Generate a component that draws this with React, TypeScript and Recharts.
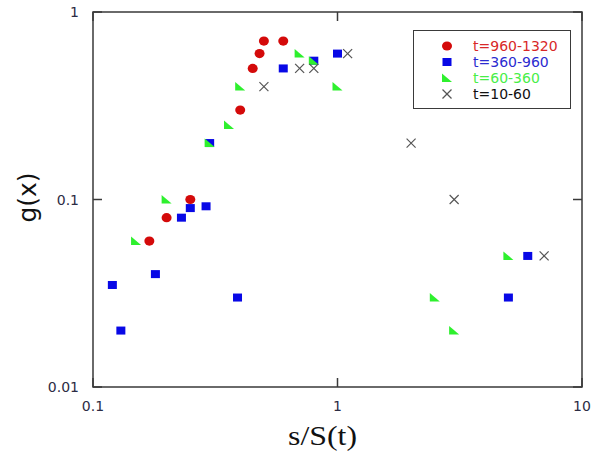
import { ScatterChart, Scatter, XAxis, YAxis, Legend, Label, ReferenceArea } from "recharts";

const xTicks = [0.1, 1, 10];
const yTicks = [0.01, 0.1, 1];

// g(x) against s/S(t), one list per time window
const t960to1320 = [
  { x: 0.17, y: 0.06 },
  { x: 0.2, y: 0.08 },
  { x: 0.25, y: 0.1 },
  { x: 0.4, y: 0.3 },
  { x: 0.45, y: 0.5 },
  { x: 0.48, y: 0.6 },
  { x: 0.5, y: 0.7 },
  { x: 0.6, y: 0.7 },
];

const t360to960 = [
  { x: 0.12, y: 0.035 },
  { x: 0.13, y: 0.02 },
  { x: 0.18, y: 0.04 },
  { x: 0.23, y: 0.08 },
  { x: 0.25, y: 0.09 },
  { x: 0.29, y: 0.092 },
  { x: 0.3, y: 0.2 },
  { x: 0.39, y: 0.03 },
  { x: 0.6, y: 0.5 },
  { x: 0.8, y: 0.55 },
  { x: 1, y: 0.6 },
  { x: 5, y: 0.03 },
  { x: 6, y: 0.05 },
];

const t60to360 = [
  { x: 0.15, y: 0.06 },
  { x: 0.2, y: 0.1 },
  { x: 0.3, y: 0.2 },
  { x: 0.36, y: 0.25 },
  { x: 0.4, y: 0.4 },
  { x: 0.7, y: 0.6 },
  { x: 0.8, y: 0.55 },
  { x: 1, y: 0.4 },
  { x: 2.5, y: 0.03 },
  { x: 3, y: 0.02 },
  { x: 5, y: 0.05 },
];

const t10to60 = [
  { x: 0.5, y: 0.4 },
  { x: 0.7, y: 0.5 },
  { x: 0.8, y: 0.5 },
  { x: 1.1, y: 0.6 },
  { x: 2, y: 0.2 },
  { x: 3, y: 0.1 },
  { x: 7, y: 0.05 },
];

const RED = "#d40a0a";
const BLUE = "#0808e6";
const GREEN = "#2ef02e";
const GREY = "#555";
const AXIS = "#3a3a3a";
const TICK_TEXT = "#2c2c44";
const SANS = "DejaVu Sans";

// frame of the plot area
const W = 593;
const H = 454;
const M = { top: 12, right: 11, bottom: 0, left: 0 };
const X_AXIS_H = 67;
const Y_AXIS_W = 93;
const TOP = M.top;
const BOTTOM = H - M.bottom - X_AXIS_H;
const LEFT = M.left + Y_AXIS_W;
const RIGHT = W - M.right;
const TICK = 9;

const Circle = ({ cx, cy }: any) => <ellipse cx={cx} cy={cy} rx={5} ry={4.6} fill={RED} />;
const Square = ({ cx, cy }: any) => <rect x={cx - 4.5} y={cy - 4} width={9} height={8} fill={BLUE} />;
const Tri = ({ cx, cy }: any) => (
  <polygon points={`${cx - 5},${cy - 4.5} ${cx - 5},${cy + 4} ${cx + 5},${cy + 4}`} fill={GREEN} />
);
const Cross = ({ cx, cy }: any) => (
  <g stroke={GREY} strokeWidth={1.2}>
    <line x1={cx - 4.5} y1={cy - 4.5} x2={cx + 4.5} y2={cy + 4.5} />
    <line x1={cx - 4.5} y1={cy + 4.5} x2={cx + 4.5} y2={cy - 4.5} />
  </g>
);

const series = [
  { name: "t=960-1320", data: t960to1320, shape: Circle, text: "#d82828" },
  { name: "t=360-960", data: t360to960, shape: Square, text: "#2b2bd0" },
  { name: "t=60-360", data: t60to360, shape: Tri, text: "#48ee48" },
  { name: "t=10-60", data: t10to60, shape: Cross, text: "#111" },
];

// inward ticks on both sides of the frame, label outside
function XTick(props: any) {
  const { x, payload } = props;
  return (
    <g>
      <line x1={x} x2={x} y1={BOTTOM} y2={BOTTOM - TICK} stroke={AXIS} strokeWidth={1.5} />
      <line x1={x} x2={x} y1={TOP} y2={TOP + TICK} stroke={AXIS} strokeWidth={1.5} />
      <text x={x} y={BOTTOM + 24} textAnchor="middle" fill={TICK_TEXT} fontSize={14} fontFamily={SANS}>
        {String(payload.value)}
      </text>
    </g>
  );
}

function YTick(props: any) {
  const { y, payload } = props;
  return (
    <g>
      <line x1={LEFT} x2={LEFT + TICK} y1={y} y2={y} stroke={AXIS} strokeWidth={1.5} />
      <line x1={RIGHT} x2={RIGHT - TICK} y1={y} y2={y} stroke={AXIS} strokeWidth={1.5} />
      <text x={LEFT - 14} y={y + 5} textAnchor="end" fill={TICK_TEXT} fontSize={14} fontFamily={SANS}>
        {String(payload.value)}
      </text>
    </g>
  );
}

const LegendBox = () => (
  <div
    style={{
      border: `1.5px solid ${AXIS}`,
      background: "#fff",
      width: 158,
      height: 79,
      boxSizing: "border-box",
      paddingTop: 7,
      paddingLeft: 25,
      fontFamily: SANS,
      fontSize: 14,
    }}
  >
    {series.map((s) => {
      const Icon = s.shape;
      return (
        <div key={s.name} style={{ display: "flex", alignItems: "center", height: 16 }}>
          <svg width={16} height={14}>
            <Icon cx={8} cy={7} />
          </svg>
          <span style={{ color: s.text, marginLeft: 18, lineHeight: "16px" }}>{s.name}</span>
        </div>
      );
    })}
  </div>
);

const XTitle = ({ viewBox }: any) => (
  <text
    x={viewBox.x + viewBox.width / 2 - 15}
    y={viewBox.y + 58}
    textAnchor="middle"
    fontFamily="Liberation Serif"
    fontSize={28}
    textLength={69}
    lengthAdjust="spacingAndGlyphs"
    fill="#111"
  >
    s/S(t)
  </text>
);

const YTitle = ({ viewBox }: any) => {
  const x = viewBox.x + 36;
  const y = viewBox.y + viewBox.height / 2 - 2;
  return (
    <text
      x={x}
      y={y}
      transform={`rotate(-90, ${x}, ${y})`}
      textAnchor="middle"
      fontFamily={SANS}
      fontSize={25}
      fill="#111"
    >
      g(x)
    </text>
  );
};

export default function App() {
  return (
    <div style={{ position: "absolute", left: 0, top: 0, background: "#fff" }}>
      <ScatterChart width={W} height={H} margin={M}>
        <XAxis
          dataKey="x"
          type="number"
          scale="log"
          domain={[0.1, 10]}
          ticks={xTicks}
          interval={0}
          height={X_AXIS_H}
          tick={XTick}
          axisLine={false}
          tickLine={false}
          allowDataOverflow
        >
          <Label content={XTitle} />
        </XAxis>
        <YAxis
          dataKey="y"
          type="number"
          scale="log"
          domain={[0.01, 1]}
          ticks={yTicks}
          interval={0}
          width={Y_AXIS_W}
          tick={YTick}
          axisLine={false}
          tickLine={false}
          allowDataOverflow
        >
          <Label content={YTitle} />
        </YAxis>
        <ReferenceArea
          x1={0.1}
          x2={10}
          y1={0.01}
          y2={1}
          fill="none"
          stroke={AXIS}
          strokeWidth={1.5}
          strokeOpacity={1}
          ifOverflow="visible"
        />
        <Legend
          layout="horizontal"
          verticalAlign="middle"
          align="center"
          wrapperStyle={{ left: 413, top: 30, width: "auto", height: "auto" }}
          content={LegendBox}
        />
        {series.map((s) => (
          <Scatter key={s.name} name={s.name} data={s.data} shape={s.shape} isAnimationActive={false} />
        ))}
      </ScatterChart>
    </div>
  );
}
